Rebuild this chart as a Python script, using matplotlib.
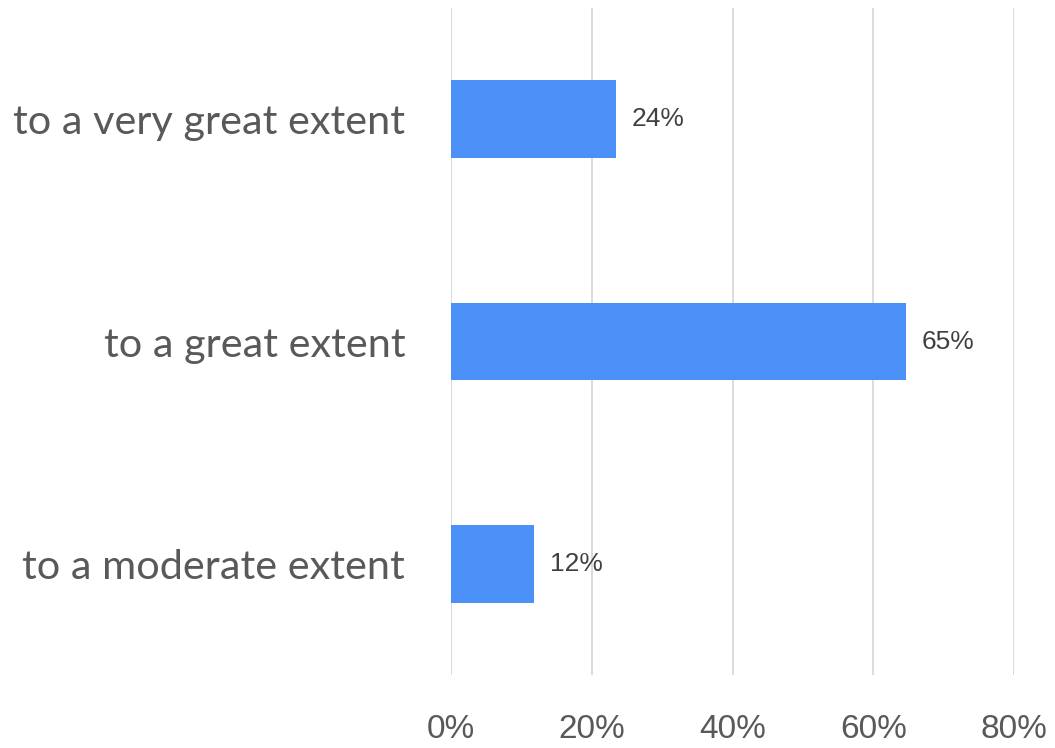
import matplotlib
matplotlib.use("Agg")
import matplotlib.pyplot as plt

categories = ["to a moderate extent", "to a great extent", "to a very great extent"]
values = [11.8, 64.7, 23.5]
labels = ["12%", "65%", "24%"]
ticks = [0, 20, 40, 60, 80]
tick_labels = ["0%", "20%", "40%", "60%", "80%"]

fig = plt.figure(figsize=(10.55, 7.48), dpi=100)
ax = fig.add_axes([451/1055, 1 - 675/748, (1014 - 451)/1055, (675 - 8)/748])

ypos = range(len(categories))
bars = ax.barh(ypos, values, height=0.35, color="#4A90F7", zorder=3)

for b, lab in zip(bars, labels):
    ax.text(b.get_width() + 2.2, b.get_y() + b.get_height()/2, lab,
            va="center", ha="left", fontsize=19, color="#404040",
            family=["Liberation Sans", "DejaVu Sans"])

ax.set_xlim(0, 80)
ax.set_ylim(-0.5, 2.5)
ax.set_xticks(ticks)
ax.set_xticklabels(tick_labels, fontsize=24, color="#595959",
                   family=["Liberation Sans", "DejaVu Sans"])
ax.set_yticks(list(ypos))
ax.set_yticklabels(categories, fontsize=29.8, color="#595959",
                   family=["Lato", "DejaVu Sans"], fontweight="normal")
ax.tick_params(axis="x", length=0, pad=28)
ax.tick_params(axis="y", length=0, pad=33)
ax.grid(axis="x", color="#D9D9D9", linewidth=1.3, zorder=0)
for s in ax.spines.values():
    s.set_visible(False)

fig.savefig("out.png", dpi=100)
